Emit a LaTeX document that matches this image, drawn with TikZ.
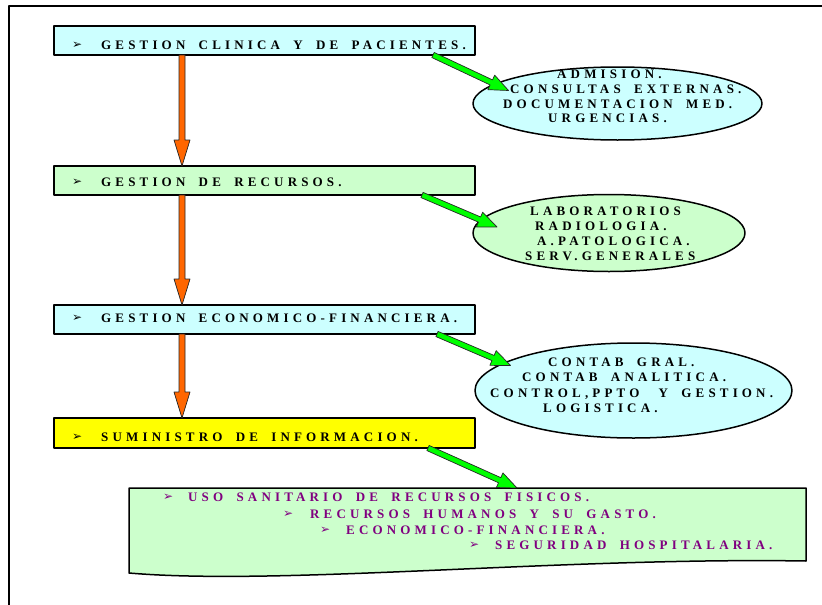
\documentclass[tikz,border=0pt]{standalone}
\usepackage{fontspec}
\setmainfont{Liberation Serif}
\newfontfamily\capsfont{Liberation Serif}[LetterSpace=32,WordSpace=1.8]
\newfontfamily\symfont{DejaVu Sans}
\usetikzlibrary{shapes.geometric,calc}

\definecolor{boxcyan}{HTML}{CCFFFF}
\definecolor{boxgreen}{HTML}{CCFFCC}
\definecolor{boxyellow}{HTML}{FFFF00}
\definecolor{arrorange}{HTML}{FF6600}
\definecolor{arrgreen}{HTML}{00FF00}
\definecolor{listpurple}{HTML}{800080}

% block arrow: #1 tail, #2 tip, #3 shaft half width, #4 head half width, #5 head length, #6 style
\newcommand\blockarrow[6]{%
  \coordinate (ba-base) at ($(#2)!#5!(#1)$);
  \filldraw[#6] ($(#1)!#3!90:(#2)$) -- ($(ba-base)!#3!90:(#2)$)
    -- ($(ba-base)!#4!90:(#2)$) -- (#2) -- ($(ba-base)!#4!-90:(#2)$)
    -- ($(ba-base)!#3!-90:(#2)$) -- ($(#1)!#3!-90:(#2)$) -- cycle;}

\tikzset{
  box/.style={draw=black, line width=1.5pt, minimum width=421pt, minimum height=29pt,
    inner sep=0pt, outer sep=0pt},
  oval/.style={ellipse, draw=black, line width=1.5pt, inner sep=0pt, outer sep=0pt},
  lbl/.style={inner sep=0pt, anchor=base west, font=\fontsize{13}{15}\capsfont\bfseries},
  bullet/.style={inner sep=0pt, anchor=base west, font=\fontsize{12}{14}\symfont},
  orangearr/.style={fill=arrorange, draw=black!85, line width=0.7pt},
  greenarr/.style={fill=arrgreen, draw=black!85, line width=0.7pt},
}

\begin{document}
\begin{tikzpicture}[x=1pt, y=-1pt, line join=round]
\useasboundingbox (0,0) rectangle (822,605);

% page frame
\draw[line width=2pt] (9,605) -- (9,6) -- (822,6);

% main stages
\node[box, fill=boxcyan] (b1) at (264.5,40.5) {};
\node[box, fill=boxgreen] (b2) at (264.5,180.5) {};
\node[box, fill=boxcyan] (b3) at (264.5,319.5) {};
\node[box, fill=boxyellow, minimum height=30pt] (b4) at (264.5,433) {};

% detail ovals
\node[oval, fill=boxcyan, minimum width=289pt, minimum height=73pt] (e1) at (617.5,103.5) {};
\node[oval, fill=boxgreen, minimum width=272pt, minimum height=77pt] (e2) at (609,233) {};
\node[oval, fill=boxcyan, minimum width=317pt, minimum height=95pt] (e3) at (633.5,390.5) {};

% report panel with wavy lower edge
\coordinate (dtl) at (129,488);
\coordinate (dtr) at (806,488);
\coordinate (dbr) at (806,561);
\coordinate (dbl) at (129,573);
\filldraw[fill=boxgreen, draw=black, line width=1.5pt]
  (dtl) -- (dtr) -- (dbr) .. controls (560,557) and (280,586) .. (dbl) -- cycle;

% vertical flow arrows
\coordinate (o1a) at ([xshift=128pt]b1.south west);
\coordinate (o1b) at ([xshift=128pt]b2.north west);
\coordinate (o2a) at ([xshift=128pt]b2.south west);
\coordinate (o2b) at ([xshift=128pt]b3.north west);
\coordinate (o3a) at ([xshift=128pt]b3.south west);
\coordinate (o3b) at ([xshift=128pt]b4.north west);
\blockarrow{o1a}{o1b}{3pt}{8pt}{26pt}{orangearr}
\blockarrow{o2a}{o2b}{3pt}{8pt}{26pt}{orangearr}
\blockarrow{o3a}{o3b}{3pt}{8pt}{26pt}{orangearr}

% side arrows
\coordinate (g1a) at ([xshift=379pt]b1.south west);
\coordinate (g1b) at ([xshift=-109pt,yshift=13pt]e1.center);
\coordinate (g2a) at ([xshift=368pt]b2.south west);
\coordinate (g2b) at ([xshift=-112pt,yshift=6pt]e2.center);
\coordinate (g3a) at ([xshift=383pt]b3.south west);
\coordinate (g3b) at ([xshift=-123pt,yshift=25pt]e3.center);
\coordinate (g4a) at ([xshift=374pt]b4.south west);
\coordinate (g4b) at ([xshift=388pt]dtl);
\blockarrow{g1a}{g1b}{2.8pt}{8pt}{19pt}{greenarr}
\blockarrow{g2a}{g2b}{2.8pt}{8pt}{19pt}{greenarr}
\blockarrow{g3a}{g3b}{2.8pt}{8pt}{19pt}{greenarr}
\blockarrow{g4a}{g4b}{2.8pt}{8pt}{19pt}{greenarr}

% stage titles
\node[bullet] (b1m) at (72,48.5) {➢};
\node[lbl] (b1t) at (101,49) {GESTION CLINICA Y DE PACIENTES.};
\node[bullet] (b2m) at (72,185.5) {➢};
\node[lbl] (b2t) at (101,186) {GESTION DE RECURSOS.};
\node[bullet] (b3m) at (72,321.5) {➢};
\node[lbl] (b3t) at (101,322) {GESTION ECONOMICO-FINANCIERA.};
\node[bullet] (b4m) at (72,440.5) {➢};
\node[lbl] (b4t) at (101,441) {SUMINISTRO DE INFORMACION.};

% oval contents
\node[lbl] (e1a) at (557,78) {ADMISION.};
\node[lbl] (e1b) at (510,93) {CONSULTAS EXTERNAS.};
\node[lbl] (e1c) at (503,108) {DOCUMENTACION MED.};
\node[lbl] (e1d) at (548,122) {URGENCIAS.};

\node[lbl] (e2a) at (530,215) {LABORATORIOS};
\node[lbl] (e2b) at (535,230) {RADIOLOGIA.};
\node[lbl] (e2c) at (537,245) {A.PATOLOGICA.};
\node[lbl] (e2d) at (525,260) {SERV.GENERALES};

\node[lbl] (e3a) at (548,366) {CONTAB GRAL.};
\node[lbl] (e3b) at (522,381) {CONTAB ANALITICA.};
\node[lbl] (e3c) at (490,397) {CONTROL,PPTO\hspace{6pt} Y GESTION.};
\node[lbl] (e3d) at (543,412) {LOGISTICA.};

% report items
\node[bullet, text=listpurple] (d1m) at (163,500.5) {➢};
\node[lbl, text=listpurple] (d1t) at (188,501) {USO SANITARIO DE RECURSOS FISICOS.};
\node[bullet, text=listpurple] (d2m) at (283,517.5) {➢};
\node[lbl, text=listpurple] (d2t) at (310,518) {RECURSOS HUMANOS Y SU GASTO.};
\node[bullet, text=listpurple] (d3m) at (320,533.5) {➢};
\node[lbl, text=listpurple] (d3t) at (346,534) {ECONOMICO-FINANCIERA.};
\node[bullet, text=listpurple] (d4m) at (469,548.5) {➢};
\node[lbl, text=listpurple] (d4t) at (495,549) {SEGURIDAD HOSPITALARIA.};
\end{tikzpicture}
\end{document}
